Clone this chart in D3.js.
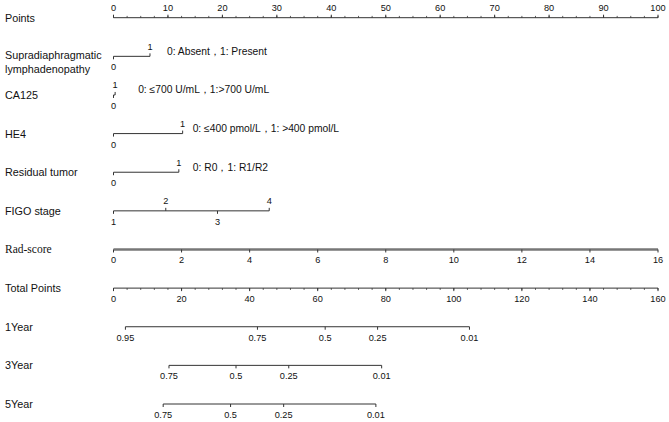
<!DOCTYPE html>
<html>
<head>
<meta charset="utf-8">
<script src="https://cdn.jsdelivr.net/npm/d3@7"></script>
<style>
  body { margin: 0; background: #fff; }
  text { font-family: "Liberation Sans", Arial, sans-serif; fill: #111; }
</style>
</head>
<body>
<svg id="nomo"></svg>
<script>
// values
const pointsTicks = d3.range(0, 101, 10);
const pointsMinor = d3.range(0, 100.1, 2.5);

const factorNames = ["Supradiaphragmatic|lymphadenopathy", "CA125", "HE4", "Residual  tumor", "FIGO  stage"];
const factorLevels = [["0", "1"], ["0", "1"], ["0", "1"], ["0", "1"], ["1", "2", "3", "4"]];
const factorPoints = [[0, 6.7], [0, 0.3], [0, 12.7], [0, 12.0], [0, 9.6, 19.1, 28.6]];
const factorAbove = [[false, true], [false, true], [false, true], [false, true], [false, true, false, true]];
const factorNotes = ["0: Absent，1: Present", "0: ≤700 U/mL，1:>700 U/mL", "0: ≤400 pmol/L，1: >400 pmol/L", "0: R0，1: R1/R2", ""];

const radTicks = d3.range(0, 17, 2);
const totalTicks = d3.range(0, 161, 20);
const totalMinor = d3.range(0, 160.1, 4);

const survNames = ["1Year", "3Year", "5Year"];
const survProbs = [["0.95", "0.75", "0.5", "0.25", "0.01"], ["0.75", "0.5", "0.25", "0.01"], ["0.75", "0.5", "0.25", "0.01"]];
const survTotals = [[3.5, 42.3, 62.2, 77.6, 104.6], [16.3, 36.0, 51.5, 78.8], [14.6, 34.4, 50.0, 77.1]];

const width = 669, height = 422;
const x0 = 113.5, x1 = 658;
const noteGap = [17, 23, 10, 14, 0];

const svg = d3.select('#nomo').attr('width', width).attr('height', height);

const rowNames = ["Points"].concat(factorNames, ["Rad-score", "Total Points"], survNames);
const row = d3.scalePoint().domain(rowNames).range([17.7, 404]);

const pts = d3.scaleLinear().domain([0, 100]).range([x0, x1]);
const rad = d3.scaleLinear().domain([0, 16]).range([x0, x1]);
const tot = d3.scaleLinear().domain([0, 160]).range([x0, x1]);

const lineColor = '#333';

// left labels
rowNames.forEach(name => {
  const y = row(name);
  const parts = name.split('|');
  const t = svg.append('text')
    .attr('x', 5)
    .attr('font-size', 10.8);
  if (name === 'Rad-score') t.style('font-family', '"Liberation Serif", "Times New Roman", serif').attr('font-size', 11.5);
  if (parts.length === 1) {
    t.attr('y', y + 4).text(name);
  } else {
    t.attr('y', y + 3).text(parts[0]);
    svg.append('text').attr('x', 5).attr('y', y + 17).attr('font-size', 10.8).text(parts[1]);
  }
});

// generic axis drawer with ticks pointing toward labels
function drawAxis(y, scale, majors, labels, above, minors, opts = {}) {
  const g = svg.append('g');
  const ext = d3.extent(majors);
  g.append('line')
    .attr('x1', scale(ext[0])).attr('x2', scale(ext[1]))
    .attr('y1', y).attr('y2', y)
    .attr('stroke', opts.color || lineColor)
    .attr('stroke-width', opts.sw || 1);
  (minors || []).forEach(v => {
    g.append('line')
      .attr('x1', scale(v)).attr('x2', scale(v))
      .attr('y1', y).attr('y2', above ? y - 1.8 : y + 1.8)
      .attr('stroke', lineColor).attr('stroke-width', 0.8);
  });
  majors.forEach((v, i) => {
    const up = Array.isArray(above) ? above[i] : above;
    g.append('line')
      .attr('x1', scale(v)).attr('x2', scale(v))
      .attr('y1', y).attr('y2', up ? y - 3 : y + 3)
      .attr('stroke', lineColor).attr('stroke-width', 1);
    g.append('text')
      .attr('x', scale(v))
      .attr('y', up ? y - 6.5 : y + 14)
      .attr('text-anchor', 'middle')
      .attr('font-size', 9.2)
      .text(labels[i]);
  });
}

// Points
drawAxis(row('Points'), pts, pointsTicks, pointsTicks.map(String), true, pointsMinor);

// factors
factorNames.forEach((name, i) => {
  const y = row(name);
  drawAxis(y, pts, factorPoints[i], factorLevels[i], factorAbove[i]);
  if (factorNotes[i]) {
    svg.append('text')
      .attr('x', pts(d3.max(factorPoints[i])) + noteGap[i])
      .attr('y', y - 1.5)
      .attr('font-size', 10.3)
      .text(factorNotes[i]);
  }
});

// Rad-score
drawAxis(row('Rad-score'), rad, radTicks, radTicks.map(String), false, [], { color: '#777', sw: 2.5 });

// Total points
drawAxis(row('Total Points'), tot, totalTicks, totalTicks.map(String), false, totalMinor);

// survival
survNames.forEach((name, i) => {
  drawAxis(row(name), tot, survTotals[i], survProbs[i], false);
});
</script>
</body>
</html>
